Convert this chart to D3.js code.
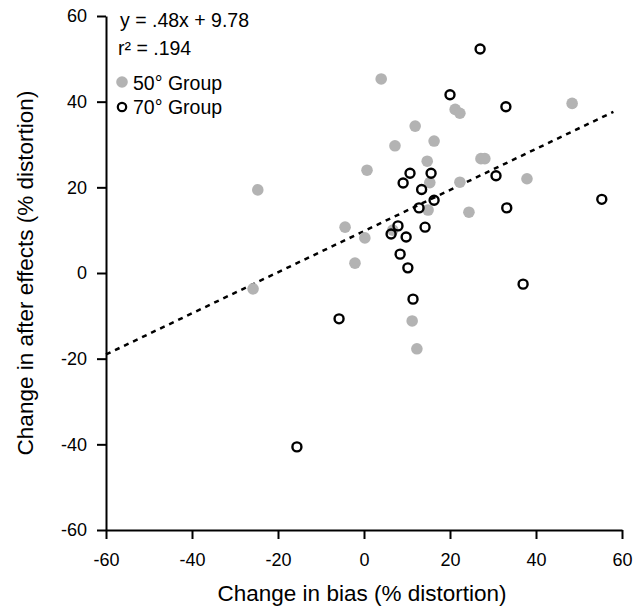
<!DOCTYPE html>
<html>
<head>
<meta charset="utf-8">
<script src="https://cdn.jsdelivr.net/npm/d3@7"></script>
<style>
  body { margin: 0; background: #fff; }
  svg { display: block; font-family: "Liberation Sans", Arial, sans-serif; }
</style>
</head>
<body>
<div id="chart"></div>
<script>
// 50° group (filled grey)
const group50X = [4.0, 11.9, 16.3, 7.2, 14.7, 0.7, -24.7, 15.3, 14.9, -4.4, 0.2, 6.7, -2.1, -25.8, 11.2, 12.3, 48.4, 21.2, 22.3, 27.2, 28.1, 37.9, 22.3, 24.4];
const group50Y = [45.3, 34.3, 30.8, 29.7, 26.1, 24.0, 19.4, 21.1, 14.7, 10.7, 8.2, 10.0, 2.3, -3.7, -11.2, -17.7, 39.6, 38.2, 37.3, 26.7, 26.7, 22.0, 21.2, 14.2];
// 70° group (open black)
const group70X = [20.0, 10.7, 15.6, 9.1, 13.4, 16.3, 12.8, 7.9, 6.3, 9.8, 14.2, 8.4, 10.2, 11.4, -5.8, 27.0, 33.0, 30.7, 55.3, 33.2, 37.0, -15.6];
const group70Y = [41.6, 23.3, 23.3, 21.0, 19.5, 17.0, 15.2, 11.0, 9.1, 8.4, 10.7, 4.4, 1.2, -6.1, -10.7, 52.3, 38.8, 22.7, 17.2, 15.2, -2.6, -40.6];

const xTicks = [-60, -40, -20, 0, 20, 40, 60];
const yTicks = [-60, -40, -20, 0, 20, 40, 60];
const slope = 0.48;
const intercept = 9.78;
const fitRange = [-60, 58];

const width = 644;
const height = 607;
const grey = "#b3b3b3";
const font = '"Liberation Sans", Arial, sans-serif';

const x = d3.scaleLinear().domain([-60, 60]).range([106, 622]);
const y = d3.scaleLinear().domain([-60, 60]).range([530, 16]);

const svg = d3
  .select("#chart")
  .append("svg")
  .attr("width", width)
  .attr("height", height);

// axes
const xAxis = svg
  .append("g")
  .attr("transform", `translate(0,${y(-60)})`)
  .call(
    d3.axisBottom(x).tickValues(xTicks).tickFormat((d) => String(d))
      .tickSize(9).tickSizeOuter(0).tickPadding(14)
  );
const yAxis = svg
  .append("g")
  .attr("transform", `translate(${x(-60)},0)`)
  .call(
    d3.axisLeft(y).tickValues(yTicks).tickFormat((d) => String(d))
      .tickSize(9).tickSizeOuter(0).tickPadding(10)
  );

[xAxis, yAxis].forEach((g) => {
  g.selectAll("path, line").attr("stroke", "#000").attr("stroke-width", 2);
  g.selectAll("text")
    .attr("fill", "#000")
    .style("font-size", "18px")
    .style("font-family", font);
});

// axis titles
svg
  .append("text")
  .attr("x", 362)
  .attr("y", 601)
  .attr("text-anchor", "middle")
  .style("font-size", "22.5px")
  .text("Change in bias (% distortion)");

svg
  .append("text")
  .attr("transform", `translate(33,${y(0)}) rotate(-90)`)
  .attr("text-anchor", "middle")
  .style("font-size", "22.5px")
  .text("Change in after effects (% distortion)");

// regression line
svg
  .append("line")
  .attr("x1", x(fitRange[0]))
  .attr("y1", y(slope * fitRange[0] + intercept))
  .attr("x2", x(fitRange[1]))
  .attr("y2", y(slope * fitRange[1] + intercept))
  .attr("stroke", "#000")
  .attr("stroke-width", 2.5)
  .attr("stroke-dasharray", "5,5");

// points
svg
  .append("g")
  .selectAll("circle")
  .data(group50X.map((d, i) => [d, group50Y[i]]))
  .join("circle")
  .attr("cx", (d) => x(d[0]))
  .attr("cy", (d) => y(d[1]))
  .attr("r", 5.8)
  .attr("fill", grey);

svg
  .append("g")
  .selectAll("circle")
  .data(group70X.map((d, i) => [d, group70Y[i]]))
  .join("circle")
  .attr("cx", (d) => x(d[0]))
  .attr("cy", (d) => y(d[1]))
  .attr("r", 4.5)
  .attr("fill", "none")
  .attr("stroke", "#000")
  .attr("stroke-width", 2.4);

// annotation + legend
const note = svg.append("g").style("font-size", "19.5px");
note.append("text").attr("x", 120).attr("y", 27).text("y = .48x + 9.78");
note.append("text").attr("x", 118).attr("y", 55).text("r² = .194");

note.append("circle").attr("cx", 122).attr("cy", 82).attr("r", 5.8).attr("fill", grey);
note.append("text").attr("x", 133).attr("y", 90).text("50° Group");
note
  .append("circle")
  .attr("cx", 122)
  .attr("cy", 107)
  .attr("r", 4.2)
  .attr("fill", "none")
  .attr("stroke", "#000")
  .attr("stroke-width", 2.2);
note.append("text").attr("x", 133).attr("y", 114).text("70° Group");
</script>
</body>
</html>
